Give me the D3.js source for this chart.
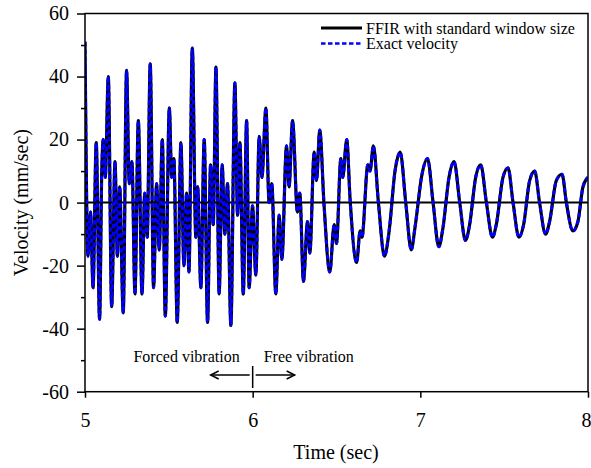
<!DOCTYPE html>
<html>
<head>
<meta charset="utf-8">
<script src="https://cdn.jsdelivr.net/npm/d3@7"></script>
<style>
  html, body { margin: 0; padding: 0; background: #fff; }
  svg { display: block; }
  text { font-family: "Liberation Serif", "Times New Roman", serif; fill: #000; }
</style>
</head>
<body>
<svg id="chart" width="591" height="468"></svg>
<script>
// ---- data (turning points of the velocity trace) ----
const timeSec = [
  5.000, 5.018, 5.033, 5.048, 5.067, 5.087, 5.100, 5.109, 5.121, 5.139,
  5.159, 5.179, 5.193, 5.207, 5.228, 5.248, 5.264, 5.280, 5.298, 5.318,
  5.340, 5.356, 5.371, 5.389, 5.409, 5.427, 5.443, 5.461, 5.479, 5.503,
  5.517, 5.530, 5.550, 5.572, 5.590, 5.606, 5.620, 5.640, 5.661, 5.672,
  5.691, 5.711, 5.731, 5.749, 5.765, 5.781, 5.800, 5.818, 5.834, 5.850,
  5.870, 5.894, 5.910, 5.924, 5.944, 5.964, 5.979, 5.999, 6.019, 6.039,
  6.055, 6.079, 6.098, 6.114, 6.138, 6.158, 6.174, 6.202, 6.217, 6.238,
  6.267, 6.281, 6.303, 6.327, 6.341, 6.367, 6.381, 6.400, 6.426, 6.460,
  6.486, 6.500, 6.526, 6.537, 6.561, 6.581, 6.620, 6.641, 6.652, 6.687,
  6.700, 6.720, 6.750, 6.786, 6.814, 6.849, 6.880, 6.913, 6.946, 6.968,
  7.010, 7.043, 7.076, 7.110, 7.135, 7.171, 7.201, 7.235, 7.269, 7.294,
  7.330, 7.360, 7.394, 7.430, 7.453, 7.493, 7.523, 7.553, 7.588, 7.616,
  7.652, 7.682, 7.711, 7.747, 7.771, 7.811, 7.845, 7.871, 7.910, 7.940,
  7.970, 8.000
];
const ffirVelocity = [
  51, -17, -3, -27, 19, -37, 10, 20, 8, 40,
  -33, 13, -17, 5, -35, 42, 6, 13, -29, 26,
  -29, 3, -11, 44, -27, 6, -15, 20, -36, 30,
  8, 14, -38, 19, -20, 3, -22, 49, -11, 5,
  -27, 20, -38, 12, -7, 43, -29, 12, -10, 6,
  -39, 38, -4, 19, -29, 26, -27, -1, -23, 21,
  8, 30, 0, 6, -29, -4, -18, 18, 5, 26,
  -3, 3, -25, -6, -16, 16, 7, 23, -1, -22,
  -7, -13, 14, 8, 20, 1, -19, -9, -11, 12,
  10, 18, 0, -17, -9, 10, 16, 0, -15, -8,
  9, 14, 0, -14, -8, 8, 13, 0, -12, -7,
  8, 12, 0, -11, -7, 8, 11, 0, -11, -7,
  7, 10, 0, -10, -6, 7, 9, 0, -9, -6,
  5, 8
];
// the exact velocity coincides with the FFIR estimate at this scale
const exactVelocity = [
  51, -17, -3, -27, 19, -37, 10, 20, 8, 40,
  -33, 13, -17, 5, -35, 42, 6, 13, -29, 26,
  -29, 3, -11, 44, -27, 6, -15, 20, -36, 30,
  8, 14, -38, 19, -20, 3, -22, 49, -11, 5,
  -27, 20, -38, 12, -7, 43, -29, 12, -10, 6,
  -39, 38, -4, 19, -29, 26, -27, -1, -23, 21,
  8, 30, 0, 6, -29, -4, -18, 18, 5, 26,
  -3, 3, -25, -6, -16, 16, 7, 23, -1, -22,
  -7, -13, 14, 8, 20, 1, -19, -9, -11, 12,
  10, 18, 0, -17, -9, 10, 16, 0, -15, -8,
  9, 14, 0, -14, -8, 8, 13, 0, -12, -7,
  8, 12, 0, -11, -7, 8, 11, 0, -11, -7,
  7, 10, 0, -10, -6, 7, 9, 0, -9, -6,
  5, 8
];
const xTicks = [5, 6, 7, 8];
const yTicks = [-60, -40, -20, 0, 20, 40, 60];
const yMinorTicks = [-50, -30, -10, 10, 30, 50];
const seriesNames = ["FFIR with standard window size", "Exact velocity"];
const xTitle = "Time (sec)";
const yTitle = "Velocity (mm/sec)";
const forcedLabel = "Forced vibration";
const freeLabel = "Free vibration";
const splitTime = 6;

// ---- layout ----
const L = 85, R = 588, T = 13.5, B = 391.7;
const svg = d3.select("#chart");
const x = d3.scaleLinear().domain([5, 8]).range([L, R]);
const y = d3.scaleLinear().domain([-60, 60]).range([B, T]);

// clip
svg.append("defs").append("clipPath").attr("id", "clip")
  .append("rect").attr("x", L).attr("y", T).attr("width", R - L).attr("height", B - T);

// zero line
svg.append("line")
  .attr("x1", L).attr("x2", R).attr("y1", y(0)).attr("y2", y(0))
  .attr("stroke", "#000").attr("stroke-width", 2);

// series
const ffirData = timeSec.map((t, i) => [t, ffirVelocity[i]]);
const exactData = timeSec.map((t, i) => [t, exactVelocity[i]]);
const line = d3.line().x(d => x(d[0])).y(d => y(d[1])).curve(d3.curveMonotoneX);
const g = svg.append("g").attr("clip-path", "url(#clip)");
g.append("path").datum(ffirData).attr("d", line)
  .attr("fill", "none").attr("stroke", "#000").attr("stroke-width", 3.2)
  .attr("stroke-linejoin", "round");
g.append("path").datum(exactData).attr("d", line)
  .attr("fill", "none").attr("stroke", "#0000ff").attr("stroke-width", 3)
  .attr("stroke-dasharray", "4.5,3");

// axes
const fs = "20px";
const plainFmt = d => String(d);   // hyphen-minus as in the reference
const xAxis = d3.axisBottom(x).tickValues(xTicks).tickSize(6).tickPadding(15).tickFormat(plainFmt);
const gx = svg.append("g").attr("transform", `translate(0,${B})`).call(xAxis);
const yAxis = d3.axisLeft(y).tickValues(yTicks).tickSize(8).tickPadding(8).tickFormat(plainFmt);
const gy = svg.append("g").attr("transform", `translate(${L},0)`).call(yAxis);
const yMinor = d3.axisLeft(y).tickValues(yMinorTicks).tickSize(4).tickFormat("");
const gym = svg.append("g").attr("transform", `translate(${L},0)`).call(yMinor);
[gx, gy, gym].forEach(a => {
  a.select(".domain").remove();
  a.selectAll("line").attr("stroke", "#000").attr("stroke-width", 1.5);
  a.selectAll("text").style("font-size", fs).style("font-family", '"Liberation Serif", serif');
});
gym.selectAll("text").remove();
// keep the last x label inside the window (the reference shows it at the very edge)
gx.selectAll(".tick").filter(d => d === 8).select("text")
  .attr("text-anchor", "end").attr("x", 3);

// frame
svg.append("rect").attr("x", L).attr("y", T).attr("width", R - L).attr("height", B - T)
  .attr("fill", "none").attr("stroke", "#000").attr("stroke-width", 1.5);

// axis titles
svg.append("text").attr("x", 336).attr("y", 459).attr("text-anchor", "middle")
  .style("font-size", fs).text(xTitle);
svg.append("text").attr("transform", `translate(28,${(T + B) / 2}) rotate(-90)`)
  .attr("text-anchor", "middle").style("font-size", fs).text(yTitle);

// legend
const lx1 = 321, lx2 = 362;
svg.append("line").attr("x1", lx1).attr("x2", lx2).attr("y1", 28).attr("y2", 28)
  .attr("stroke", "#000").attr("stroke-width", 3);
svg.append("text").attr("x", 366).attr("y", 33.5).style("font-size", "16px").text(seriesNames[0]);
svg.append("line").attr("x1", lx1).attr("x2", lx2).attr("y1", 43.5).attr("y2", 43.5)
  .attr("stroke", "#0000ff").attr("stroke-width", 2.5).attr("stroke-dasharray", "4.5,2.5");
svg.append("text").attr("x", 366).attr("y", 49).style("font-size", "16px").text(seriesNames[1]);

// forced / free annotation
const xs = x(splitTime);
svg.append("text").attr("x", xs - 13).attr("y", 362).attr("text-anchor", "end")
  .style("font-size", "16px").text(forcedLabel);
svg.append("text").attr("x", xs + 11).attr("y", 362)
  .style("font-size", "16px").text(freeLabel);
const ann = svg.append("g").attr("stroke", "#000").attr("stroke-width", 1.5).attr("fill", "none");
ann.append("line").attr("x1", xs).attr("x2", xs).attr("y1", 366).attr("y2", 388);
ann.append("line").attr("x1", xs - 3).attr("x2", xs - 42).attr("y1", 375).attr("y2", 375);
ann.append("path").attr("d", `M${xs - 34},${371} L${xs - 42},${375} L${xs - 34},${379}`);
ann.append("line").attr("x1", xs + 3).attr("x2", xs + 42).attr("y1", 375).attr("y2", 375);
ann.append("path").attr("d", `M${xs + 34},${371} L${xs + 42},${375} L${xs + 34},${379}`);
</script>
</body>
</html>
